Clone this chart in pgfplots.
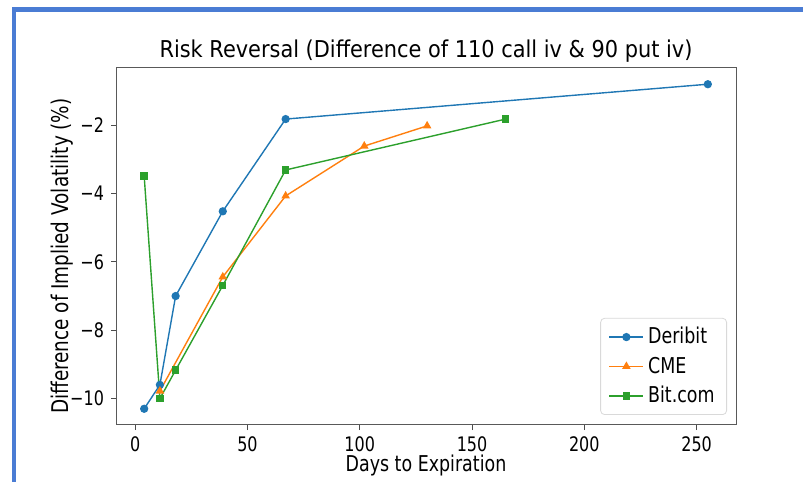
\documentclass[border=0pt]{standalone}
\usepackage{fontspec}
\setmainfont{DejaVu Sans}[FakeStretch=0.8]
\newfontfamily\titlefont{DejaVu Sans}[FakeStretch=0.9]
\usepackage{pgfplots}
\pgfplotsset{compat=1.18}

\definecolor{mplblue}{HTML}{1F77B4}
\definecolor{mplorange}{HTML}{FF7F0E}
\definecolor{mplgreen}{HTML}{2CA02C}
\definecolor{frameblue}{RGB}{74,124,212}

\begin{document}
\begin{tikzpicture}
\useasboundingbox (0,0) rectangle (401.5pt,241pt);
% screenshot border
\fill[frameblue] (6pt,235pt) rectangle (401.5pt,237.25pt);
\fill[frameblue] (6pt,0pt) rectangle (8pt,237.25pt);

\begin{axis}[
    at={(58pt,28.5pt)},
    anchor=south west,
    scale only axis,
    width=310pt,
    height=178.5pt,
    xmin=-8.55, xmax=267.55,
    ymin=-10.775, ymax=-0.325,
    xtick={0,50,100,150,200,250},
    ytick={-10,-8,-6,-4,-2},
    yticklabels={−10,−8,−6,−4,−2},
    xtick pos=bottom,
    ytick pos=left,
    tick align=outside,
    major tick length=2.5pt,
    tick style={black!70, line width=0.4pt},
    axis line style={black!65, line width=0.5pt},
    /pgf/number format/assume math mode=true,
    tick label style={font=\fontsize{10}{12}\selectfont},
    title={Risk Reversal (Difference of 110 call iv \& 90 put iv)},
    every axis title/.style={at={(axis description cs:0.5,1.046)}, anchor=center,
        font=\titlefont\fontsize{11.6}{14}\selectfont},
    xlabel={Days to Expiration},
    every axis x label/.style={at={(axis description cs:0.5,-0.113)}, anchor=center,
        font=\fontsize{10.9}{13}\selectfont},
    ylabel={Difference of Implied Volatility (\%)},
    every axis y label/.style={at={(axis description cs:-0.087,0.473)}, anchor=center, rotate=90,
        font=\fontsize{11.5}{13}\selectfont},
    legend style={at={(axis description cs:1,0)}, anchor=south east,
        xshift=-4.5pt, yshift=5pt, draw=black!15, rounded corners=2pt,
        font=\fontsize{10.9}{12}\selectfont, row sep=1pt,
        inner xsep=4pt, inner ysep=2.5pt},
    legend cell align=left,
    every axis plot/.append style={line width=0.7pt},
]
\addplot[color=mplblue, mark=*, mark size=1.7pt] coordinates {
    (4,-10.3) (11,-9.6) (18,-7.0) (39,-4.52) (67,-1.82) (255,-0.80)
};
\addplot[color=mplorange, mark=triangle*, mark size=1.8pt] coordinates {
    (11,-9.78) (39,-6.44) (67,-4.07) (102,-2.61) (130,-2.02)
};
\addplot[color=mplgreen, mark=square*, mark size=1.5pt] coordinates {
    (4,-3.49) (11,-10.0) (18,-9.17) (39,-6.69) (67,-3.31) (165,-1.82)
};
\legend{Deribit, CME, Bit.com}
\end{axis}
\end{tikzpicture}
\end{document}
